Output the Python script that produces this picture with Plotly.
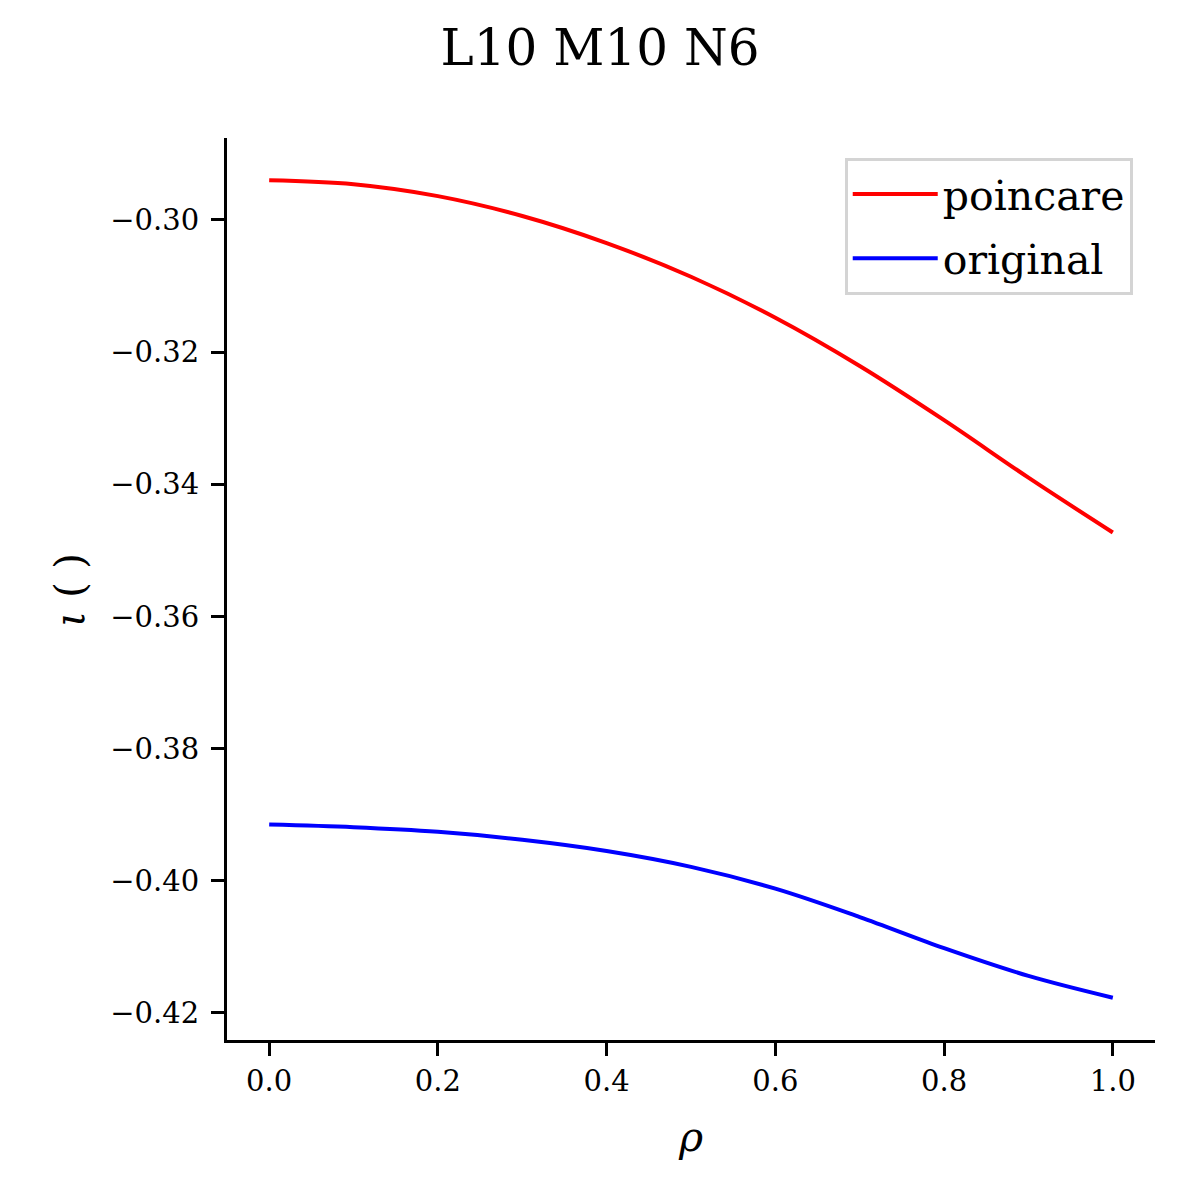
import plotly.graph_objects as go

rho = [0.0, 0.1, 0.2, 0.3, 0.4, 0.5, 0.6, 0.7, 0.8, 0.9, 1.0]
iota_poincare = [-0.2940, -0.2946, -0.2964, -0.2994, -0.3035, -0.3086,
                 -0.3148, -0.3221, -0.3303, -0.3390, -0.3473]
iota_original = [-0.3915, -0.3919, -0.3926, -0.3938, -0.3955, -0.3979,
                 -0.4012, -0.4055, -0.4102, -0.4144, -0.4177]

serif = "DejaVu Serif"

# page body has an 8px margin, so the figure is 1184 and everything is shifted by 8px
fig = go.Figure()
fig.add_trace(go.Scatter(x=rho, y=iota_poincare, mode="lines", name="poincare", legendgroup="a",
                         line=dict(color="red", width=4, shape="spline", smoothing=1.0)))
fig.add_trace(go.Scatter(x=rho, y=iota_original, mode="lines", name="original", legendgroup="b",
                         line=dict(color="blue", width=4, shape="spline", smoothing=1.0)))

fig.update_layout(
    width=1184, height=1184,
    margin=dict(l=219, r=37, t=130, b=152),
    plot_bgcolor="white", paper_bgcolor="white",
    font=dict(family=serif, color="black"),
    title=dict(text="L10 M10 N6", x=0.5, xanchor="center", y=1 - 39 / 1184, yanchor="middle",
               font=dict(family=serif, size=50, color="black")),
    showlegend=True,
    legend=dict(x=0.976, y=0.978, xanchor="right", yanchor="top",
                bgcolor="rgba(255,255,255,0.8)", bordercolor="#d4d4d4", borderwidth=3,
                font=dict(family=serif, size=41), itemwidth=85, tracegroupgap=8),
)
fig.update_xaxes(range=[-0.05, 1.05], tickvals=[0.0, 0.2, 0.4, 0.6, 0.8, 1.0], tickformat=".1f",
                 showline=True, linecolor="black", linewidth=3, mirror=False,
                 ticks="outside", ticklen=13, tickwidth=3, tickcolor="black",
                 showgrid=False, zeroline=False, tickfont=dict(family=serif, size=29))
fig.update_yaxes(range=[-0.4241, -0.2876], tickvals=[-0.30, -0.32, -0.34, -0.36, -0.38, -0.40, -0.42],
                 tickformat=".2f", ticklabelstandoff=6,
                 showline=True, linecolor="black", linewidth=3, mirror=False,
                 ticks="outside", ticklen=13, tickwidth=3, tickcolor="black",
                 showgrid=False, zeroline=False, tickfont=dict(family=serif, size=29))

fig.add_annotation(text="<i>ρ</i>", xref="paper", yref="paper", x=0.499, y=-0.1075,
                   showarrow=False, font=dict(family=serif, size=41), xanchor="center", yanchor="middle")
fig.add_annotation(text="<i>ι</i> ( )", xref="paper", yref="paper", x=-0.169, y=0.499,
                   showarrow=False, textangle=-90, font=dict(family=serif, size=41),
                   xanchor="center", yanchor="middle")

fig.write_html("out.html")
